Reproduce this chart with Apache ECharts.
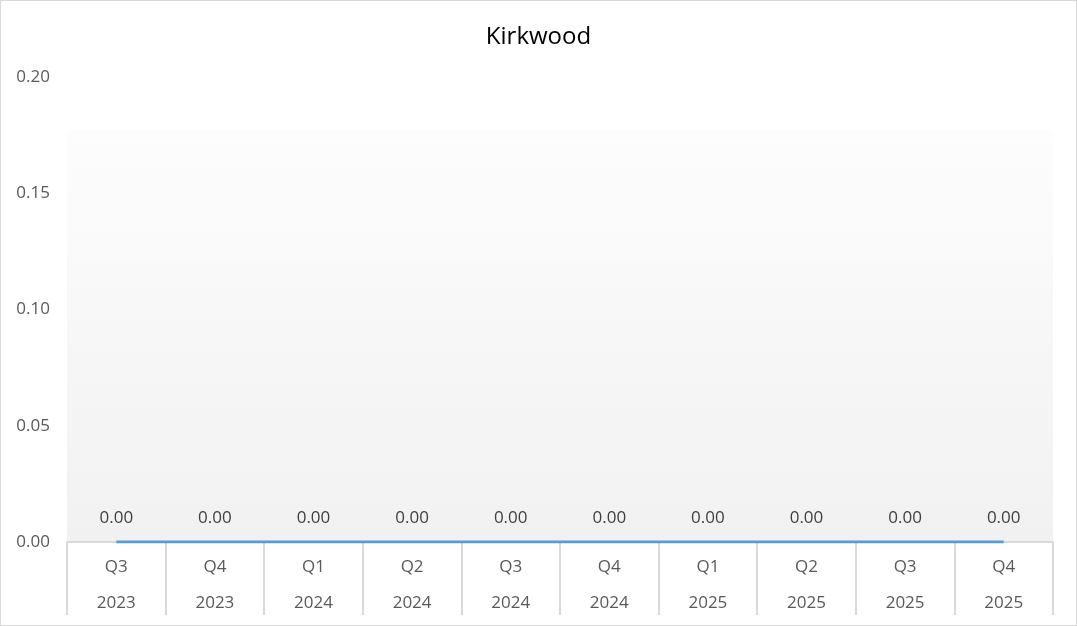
<!DOCTYPE html>
<html>
<head>
<meta charset="utf-8">
<script src="https://cdn.jsdelivr.net/npm/echarts@6/dist/echarts.min.js"></script>
<style>
  html, body { margin: 0; padding: 0; background: #fff; }
  #chart { width: 1077px; height: 626px; box-sizing: border-box; border: 1px solid #d9d9d9; }
</style>
</head>
<body>
<div id="chart"></div>
<script>
// Chart data
const quarters = ['Q3', 'Q4', 'Q1', 'Q2', 'Q3', 'Q4', 'Q1', 'Q2', 'Q3', 'Q4'];
const years = ['2023', '2023', '2024', '2024', '2024', '2024', '2025', '2025', '2025', '2025'];
const values = [0, 0, 0, 0, 0, 0, 0, 0, 0, 0];
const yTicks = [0, 0.05, 0.10, 0.15, 0.20];

const categories = quarters.map((q, i) => q + '\n' + years[i]);
const font = '"Open Sans", "Noto Sans", sans-serif';

const chart = echarts.init(document.getElementById('chart'));

const option = {
  animation: false,
  title: {
    text: 'Kirkwood',
    left: 'center',
    top: 19,
    textStyle: { fontFamily: font, fontSize: 24, fontWeight: 'normal', color: '#000' }
  },
  grid: {
    left: 66,
    right: 23,
    top: 76,
    bottom: 83,
    show: true,
    borderWidth: 0,
    backgroundColor: {
      type: 'linear', x: 0, y: 0, x2: 0, y2: 1,
      colorStops: [
        { offset: 0, color: '#ffffff' },
        { offset: 0.114, color: '#ffffff' },
        { offset: 0.115, color: '#fdfdfd' },
        { offset: 1, color: '#f1f1f1' }
      ]
    }
  },
  xAxis: {
    type: 'category',
    data: categories,
    boundaryGap: true,
    axisLine: { lineStyle: { color: '#d9d9d9', width: 2 } },
    axisTick: { show: true, interval: 0, length: 73, lineStyle: { color: '#d9d9d9', width: 2 } },
    axisLabel: {
      interval: 0,
      margin: 7,
      fontFamily: font,
      fontSize: 17,
      color: '#595959',
      lineHeight: 36
    },
    splitLine: { show: false }
  },
  yAxis: {
    type: 'value',
    min: yTicks[0],
    max: yTicks[yTicks.length - 1],
    interval: 0.05,
    axisLine: { show: false },
    axisTick: { show: false },
    splitLine: { show: false },
    axisLabel: {
      margin: 17,
      fontFamily: font,
      fontSize: 17,
      color: '#595959',
      formatter: v => v.toFixed(2)
    }
  },
  series: [{
    type: 'line',
    data: values,
    showSymbol: true,
    symbol: 'circle',
    symbolSize: 2,
    itemStyle: { color: 'rgba(0,0,0,0)', borderWidth: 0 },
    lineStyle: { color: '#5b9bd5', width: 3 },
    labelLayout: { hideOverlap: false },
    label: {
      show: true,
      position: 'top',
      distance: 14,
      fontFamily: font,
      fontSize: 17,
      color: '#404040',
      formatter: p => p.value.toFixed(2)
    }
  }]
};

chart.setOption(option);
</script>
</body>
</html>
